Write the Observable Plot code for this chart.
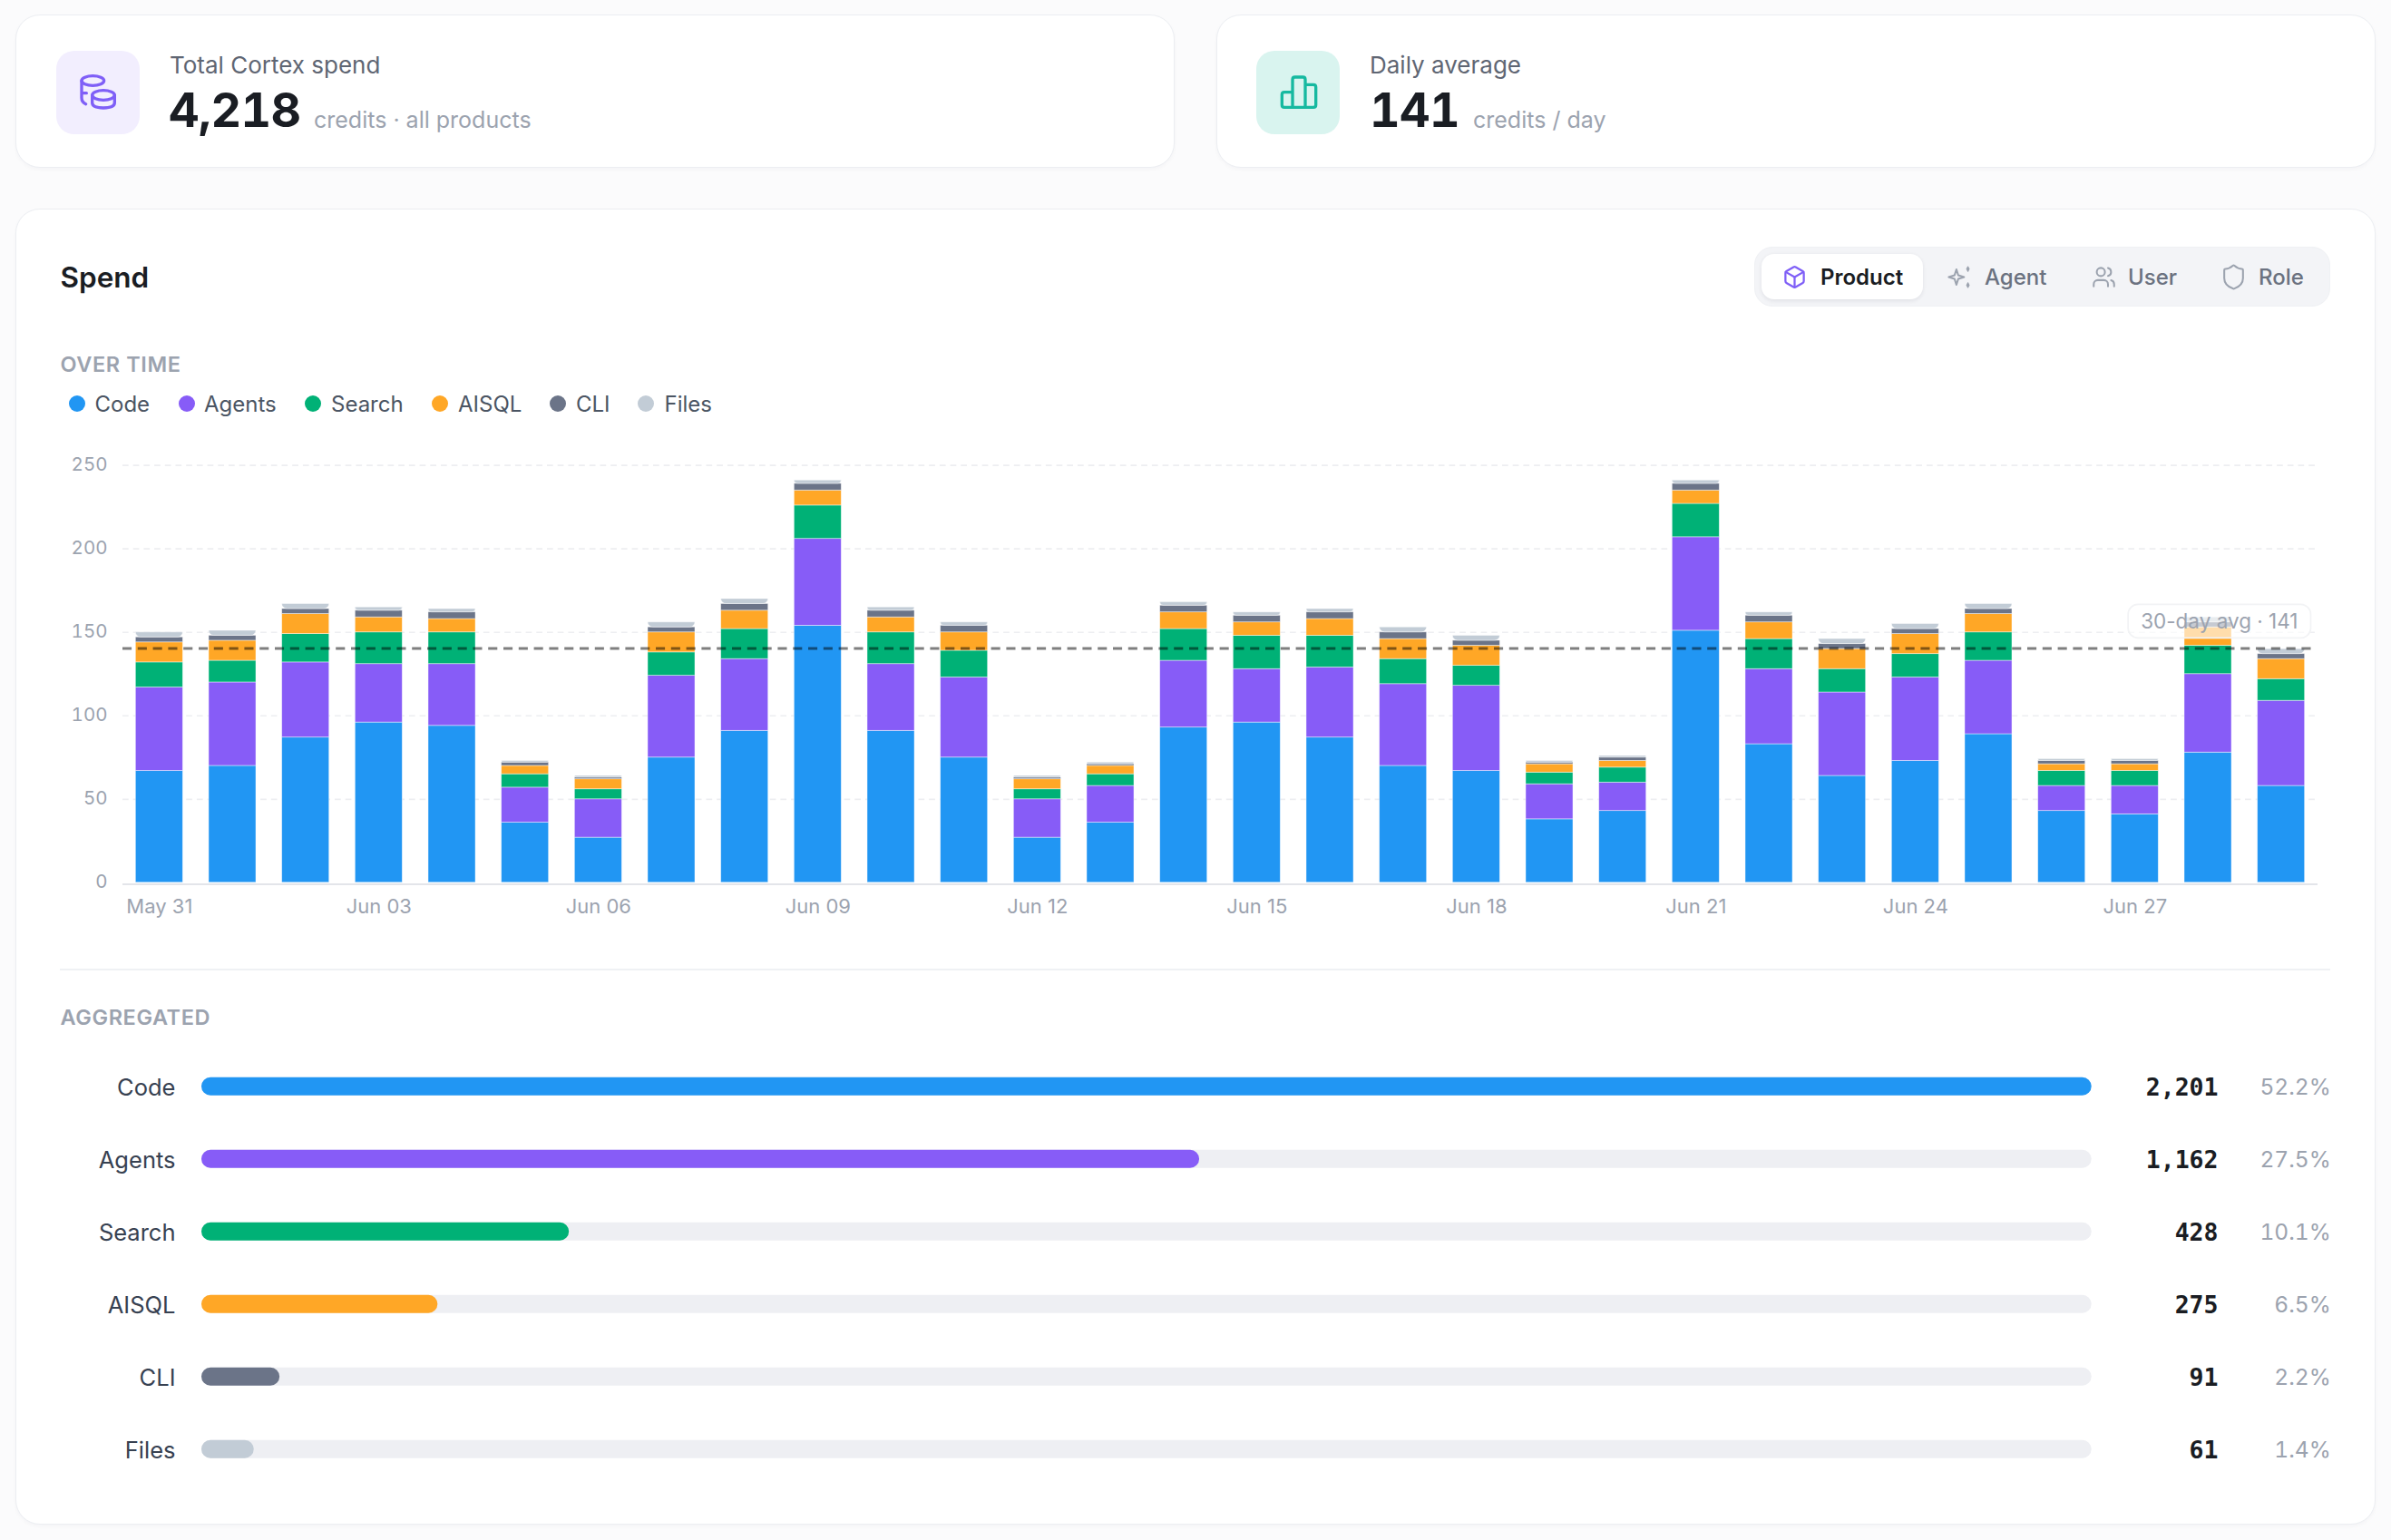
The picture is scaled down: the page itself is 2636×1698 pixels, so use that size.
<!DOCTYPE html>
<html><head><meta charset="utf-8">
<script src="https://cdn.jsdelivr.net/npm/d3@7"></script>
<script src="https://cdn.jsdelivr.net/npm/@observablehq/plot@0.6"></script>
<style>
html,body{margin:0;padding:0;background:#fbfbfc;}
body{width:2636px;height:1698px;position:relative;overflow:hidden;font-family:Inter,sans-serif;}
.card{position:absolute;box-sizing:border-box;background:#fff;border:1.7px solid #eceef2;border-radius:27px;box-shadow:0 2px 4px rgba(20,30,50,.03);}
.t{position:absolute;white-space:nowrap;line-height:1;font-family:Inter,sans-serif;}
.box{position:absolute;}
svg.ic{position:absolute;fill:none;stroke-linecap:round;stroke-linejoin:round;}
.plot{position:absolute;left:0;}
</style></head><body>
<div class="card" style="left:17px;top:16px;width:1278px;height:169px"></div>
<div class="card" style="left:1341px;top:16px;width:1278px;height:169px"></div>
<div class="card" style="left:17px;top:230px;width:2602px;height:1451px"></div>
<div class="box" style="left:62px;top:56px;width:92px;height:92px;border-radius:20px;background:#f2eefe"></div>
<div class="box" style="left:1385px;top:56px;width:92px;height:92px;border-radius:20px;background:#d9f4ef"></div>
<svg class="ic" style="left:70px;top:60px" width="80" height="80" viewBox="0 0 240 240" stroke="#7f5ff7" stroke-width="10">
<ellipse cx="97" cy="87" rx="37" ry="16"/><path d="M60 87V143Q60 158 74 164M60 128H76"/>
<ellipse cx="132" cy="135" rx="37" ry="16"/><path d="M95 135V160Q95 177 132 177Q169 177 169 160V135"/></svg>
<svg class="ic" style="left:1390px;top:60px" width="80" height="80" viewBox="0 0 240 240" stroke="#16b9a0" stroke-width="10">
<path d="M105 175V125H78Q70 125 70 133V167Q70 175 78 175H174Q182 175 182 167V108Q182 100 174 100H147M105 125V83Q105 75 113 75H139Q147 75 147 83V175"/></svg>
<div class="box" style="left:1934px;top:272px;width:635px;height:66px;box-sizing:border-box;border-radius:20px;background:#f3f4f7;border:1.7px solid #eff1f4"></div>
<div class="box" style="left:1942px;top:280px;width:178px;height:50px;border-radius:14px;background:#fff;box-shadow:0 1.5px 4px rgba(20,30,50,.08)"></div>
<svg class="ic" style="left:1965px;top:292px" width="27" height="27" viewBox="0 0 24 24" stroke="#7f5ff7" stroke-width="2"><path d="M21 8a2 2 0 0 0-1-1.73l-7-4a2 2 0 0 0-2 0l-7 4A2 2 0 0 0 3 8v8a2 2 0 0 0 1 1.73l7 4a2 2 0 0 0 2 0l7-4A2 2 0 0 0 21 16Z"/><path d="m3.3 7 8.7 5 8.7-5"/><path d="M12 22V12"/></svg>
<svg class="ic" style="left:2146px;top:291px" width="29" height="29" viewBox="0 0 24 24" stroke="#9ca3af" stroke-width="1.7"><path d="M9 5 10.7 10.3 16 12 10.7 13.7 9 19 7.3 13.7 2 12 7.3 10.3Z"/><path d="M19.5 2.5 20.6 4.6 19.5 6.7 18.4 4.6ZM19.5 17.3 20.6 19.4 19.5 21.5 18.4 19.4Z" fill="#9ca3af" stroke-width="1"/></svg>
<svg class="ic" style="left:2306px;top:292px" width="27" height="27" viewBox="0 0 24 24" stroke="#9ca3af" stroke-width="1.8"><path d="M16 21v-2a4 4 0 0 0-4-4H6a4 4 0 0 0-4 4v2"/><circle cx="9" cy="7" r="4"/><path d="M22 21v-2a4 4 0 0 0-3-3.87"/><path d="M16 3.13a4 4 0 0 1 0 7.75"/></svg>
<svg class="ic" style="left:2447px;top:290px" width="31" height="31" viewBox="0 0 24 24" stroke="#9ca3af" stroke-width="1.6"><path d="M20 13c0 5-3.5 7.5-7.66 8.95a1 1 0 0 1-.67-.01C7.5 20.5 4 18 4 13V6a1 1 0 0 1 1-1c2 0 4.5-1.2 6.24-2.72a1.17 1.17 0 0 1 1.52 0C14.51 3.81 17 5 19 5a1 1 0 0 1 1 1z"/></svg>
<div class="box" style="left:66px;top:1068px;width:2503px;height:1.7px;background:#eff1f4"></div>
<div id="chart" class="plot" style="top:490px"></div>
<div id="agg" class="plot" style="top:1130px"></div>
<script>
// ---- data ----
const days = ["May 31","Jun 01","Jun 02","Jun 03","Jun 04","Jun 05","Jun 06","Jun 07","Jun 08","Jun 09","Jun 10","Jun 11","Jun 12","Jun 13","Jun 14","Jun 15","Jun 16","Jun 17","Jun 18","Jun 19","Jun 20","Jun 21","Jun 22","Jun 23","Jun 24","Jun 25","Jun 26","Jun 27","Jun 28","Jun 29"];
const dayTicks = ["May 31","Jun 03","Jun 06","Jun 09","Jun 12","Jun 15","Jun 18","Jun 21","Jun 24","Jun 27"];
const yTicks = [0,50,100,150,200,250];
const codeDaily   = [67,70,87,96,94,36,27,75,91,154,91,75,27,36,93,96,87,70,67,38,43,151,83,64,73,89,43,41,78,58];
const agentsDaily = [50,50,45,35,37,21,23,49,43,52,40,48,23,22,40,32,42,49,51,21,17,56,45,50,50,44,15,17,47,51];
const searchDaily = [15,13,17,19,19,8,6,14,18,20,19,16,6,7,19,20,19,15,12,7,9,20,18,14,14,17,9,9,17,13];
const aisqlDaily  = [12,12,12,9,8,5,6,12,11,9,9,11,6,5,10,8,10,12,12,5,4,8,10,12,12,11,4,4,11,12];
const cliDaily    = [3,3,3,4,4,2,1,3,4,4,4,4,1,1,4,4,4,4,3,1,2,4,4,3,3,3,2,2,3,3];
const filesDaily  = [3,3,3,2,2,1,1,3,3,2,2,2,1,1,2,2,2,3,3,1,1,2,2,3,3,3,1,1,3,3];
const seriesNames = ["Code","Agents","Search","AISQL","CLI","Files"];
const seriesColors = ["#2196f3","#875cf7","#00b176","#ffa726","#6b7488","#c2ccd6"];
const seriesDaily = [codeDaily,agentsDaily,searchDaily,aisqlDaily,cliDaily,filesDaily];
const totals = [2201,1162,428,275,91,61];
const shares = ["52.2%","27.5%","10.1%","6.5%","2.2%","1.4%"];
const average = 141;
const avgLabel = "30-day avg · 141";

// ---- static text ----
function text(s,x,base,size,color,weight){
  const d=document.createElement("div");d.className="t";d.textContent=s;
  d.style.cssText=`left:${x}px;top:${base-.864*size}px;font-size:${size}px;color:${color};font-weight:${weight||400}`;
  document.body.appendChild(d);return d;
}
function tight(el){el.style.fontVariantNumeric="tabular-nums";el.style.letterSpacing="-.6px";}
text("Total Cortex spend",187,81.3,26,"#5f6673",400);
tight(text("4,218",186,141,52,"#1a1d23",700));
text("credits · all products",346,141.3,25,"#9ca3af",400);
text("Daily average",1510,81.3,26,"#5f6673",400);
tight(text("141",1510,141,52,"#1a1d23",700));
text("credits / day",1624,141.3,25,"#9ca3af",400);
text("Spend",66.5,317,31.5,"#1a1d23",600);
text("Product",2007,314.7,24,"#1a1d23",600);
text("Agent",2188,314.7,24,"#6b7280",500);
text("User",2346,314.7,24,"#6b7280",500);
text("Role",2490,314.7,24,"#6b7280",500);
text("OVER TIME",66.5,410,23.5,"#9ca3af",600).style.letterSpacing=".6px";
text("AGGREGATED",66.5,1130.5,23.5,"#9ca3af",600).style.letterSpacing=".6px";

// legend
const legendDot=[85,205.5,345,485,615,712], legendText=[104.5,225,365,505,635,732.5];
seriesNames.forEach((n,i)=>{
  const dot=document.createElement("div");dot.className="box";
  dot.style.cssText=`left:${legendDot[i]-9}px;top:436px;width:18px;height:18px;border-radius:50%;background:${seriesColors[i]}`;
  document.body.appendChild(dot);
  text(n,legendText[i],454.8,24,"#4b5563",400);
});

// ---- over-time chart ----
const rows=[];
days.forEach((day,i)=>{
  let base=0;
  seriesNames.forEach((name,s)=>{
    const v=seriesDaily[s][i];
    rows.push({day,name,y1:base,y2:base+v});
    base+=v;
  });
});
const fontFamily="Inter, sans-serif";
const barStyle={x:"day",y1:"y1",y2:"y2",fill:"name",stroke:"#fff",strokeWidth:.8,strokeOpacity:.55};
const chart=Plot.plot({
  width:2636,height:530,
  marginLeft:135,marginRight:81,marginTop:22.7,marginBottom:47.2,
  style:{fontFamily,background:"transparent",overflow:"visible"},
  x:{type:"band",domain:days,paddingInner:.355,paddingOuter:.1775,round:false,axis:null},
  y:{domain:[0,250],axis:null},
  color:{domain:seriesNames,range:seriesColors},
  marks:[
    Plot.ruleY(yTicks.filter(d=>d>0),{stroke:"#edeef1",strokeWidth:1.7,strokeDasharray:"6.7 5"}),
    Plot.ruleY([0],{stroke:"#e3e5ea",strokeWidth:1.8,dy:1.7}),
    Plot.axisY({ticks:yTicks,tickSize:0,tickPadding:17,label:null,fontSize:20.5,color:"#9ca3af",dy:-1}),
    Plot.axisX({ticks:dayTicks,tickSize:0,tickPadding:18,label:null,fontSize:22,color:"#9ca3af"}),
    Plot.barY(rows.filter(d=>d.name!=="Files"),barStyle),
    Plot.barY(rows.filter(d=>d.name==="Files"),{...barStyle,rx1y2:6,rx2y2:6}),
    Plot.ruleY([average],{stroke:"#000",strokeOpacity:.5,strokeWidth:3,strokeDasharray:"10.1 6.7",insetRight:6,dy:1.3}),
    Plot.text([avgLabel],{text:d=>d,y:150,frameAnchor:"right",textAnchor:"end",dx:-22,dy:-11,fontSize:22.5,fill:"#9ca3af",className:"avg-label"})
  ]
});
document.getElementById("chart").appendChild(chart);
// white pill behind the average label, sized from the text it carries
const lab=chart.querySelector(".avg-label text");
if(lab){
  const b=lab.getBBox();
  const ns="http://www.w3.org/2000/svg";
  const r=document.createElementNS(ns,"rect");
  r.setAttribute("x",b.x-14);r.setAttribute("y",b.y-5);
  r.setAttribute("width",b.width+28);r.setAttribute("height",b.height+10);
  r.setAttribute("rx",11);r.setAttribute("fill","#fff");r.setAttribute("fill-opacity",.62);
  r.setAttribute("stroke","#f2f3f5");r.setAttribute("stroke-width",1.7);
  const tr=lab.getAttribute("transform");
  const g=lab.parentNode;
  if(tr) r.setAttribute("transform",tr);
  g.insertBefore(r,lab);
}

// ---- aggregated bars ----
const agg=seriesNames.map((name,i)=>({name,total:totals[i],share:shares[i],max:d3.max(totals)}));
const aggPlot=Plot.plot({
  width:2636,height:530,
  marginLeft:222,marginRight:330.3,marginTop:27.7,marginBottom:22.3,
  style:{fontFamily,background:"transparent",overflow:"visible"},
  x:{domain:[0,d3.max(totals)],axis:null},
  y:{type:"band",domain:seriesNames,paddingInner:.75,paddingOuter:.375,round:false,axis:null},
  color:{domain:seriesNames,range:seriesColors},
  marks:[
    Plot.axisY({tickSize:0,tickPadding:29,label:null,fontSize:25.5,color:"#374151",dy:1.2}),
    Plot.barX(agg,{x:"max",y:"name",fill:"#eeeff3",r:10}),
    Plot.barX(agg,{x:"total",y:"name",fill:"name",r:10}),
    Plot.text(agg,{text:d=>d3.format(",")(d.total),y:"name",frameAnchor:"right",textAnchor:"end",dx:139.3,dy:1.2,fontFamily:"DejaVu Sans Mono",fontWeight:700,fontSize:26.5,fill:"#1a1d23"}),
    Plot.text(agg,{text:"share",y:"name",frameAnchor:"right",textAnchor:"end",dx:263.5,dy:1.2,fontFamily:"Inter",fontVariant:"tabular-nums",fontSize:24.5,fill:"#9ca3af"})
  ]
});
document.getElementById("agg").appendChild(aggPlot);
</script>
</body></html>
